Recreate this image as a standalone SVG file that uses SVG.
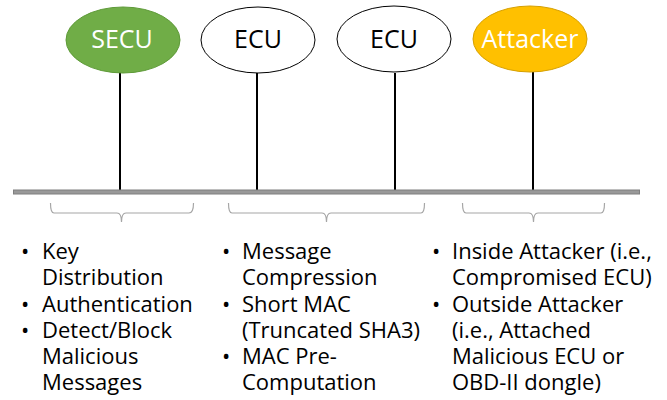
<svg xmlns="http://www.w3.org/2000/svg" width="667" height="400" viewBox="0 0 667 400">
<style>
.lbl{font-family:"Open Sans","Noto Sans","Liberation Sans",sans-serif;font-size:25px;text-anchor:middle}
.txt{font-family:"Open Sans","Noto Sans","Liberation Sans",sans-serif;font-size:22px;fill:#000}
.stem{stroke:#000;stroke-width:2}
.brace{fill:none;stroke:#a6a6a6;stroke-width:1.2}
</style>
<rect width="667" height="400" fill="#fff"/>
<g id="connectors">
<line class="stem" x1="120" y1="72" x2="120" y2="190"/>
<line class="stem" x1="257" y1="73" x2="257" y2="190"/>
<line class="stem" x1="395" y1="73" x2="395" y2="190"/>
<line class="stem" x1="533" y1="72" x2="533" y2="190"/>
</g>
<g id="bus">
<rect x="13.5" y="190" width="626" height="4" fill="#999" stroke="#7f7f7f" stroke-width="1"/>
</g>
<g id="secu">
<ellipse cx="123" cy="40" rx="57" ry="33" fill="#70AD47" stroke="#5e9a38" stroke-width="1"/>
<text class="lbl" x="122" y="48" fill="#fff">SECU</text>
</g>
<g id="ecu1">
<ellipse cx="258" cy="40" rx="57" ry="33" fill="#fff" stroke="#000" stroke-width="1"/>
<text class="lbl" x="258" y="48" fill="#000">ECU</text>
</g>
<g id="ecu2">
<ellipse cx="394" cy="39" rx="57" ry="33" fill="#fff" stroke="#000" stroke-width="1"/>
<text class="lbl" x="394" y="48" fill="#000">ECU</text>
</g>
<g id="attacker">
<ellipse cx="530" cy="39" rx="57" ry="33" fill="#FFC000" stroke="#d6a000" stroke-width="1"/>
<text class="lbl" x="530" y="48" fill="#fff">Attacker</text>
</g>
<g id="braces">
<path class="brace" d="M50.5,203 Q50.5,213 54,213 L117,213 Q121.5,213 121.5,222 Q121.5,213 126,213 L189,213 Q193.5,213 193.5,203"/>
<path class="brace" d="M228.5,203 Q228.5,213 232,213 L322,213 Q326.5,213 326.5,222 Q326.5,213 331,213 L421,213 Q424.5,213 424.5,203"/>
<path class="brace" d="M462.5,203 Q462.5,213 466,213 L529,213 Q533.5,213 533.5,222 Q533.5,213 538,213 L601,213 Q604.5,213 604.5,203"/>
</g>
<g id="list-secu">
<text class="txt" x="21" y="259">•</text>
<text class="txt" x="42" y="259">Key</text>
<text class="txt" x="42" y="285">Distribution</text>
<text class="txt" x="21" y="312">•</text>
<text class="txt" x="42" y="312">Authentication</text>
<text class="txt" x="21" y="338">•</text>
<text class="txt" x="42" y="338">Detect/Block</text>
<text class="txt" x="42" y="364">Malicious</text>
<text class="txt" x="42" y="390">Messages</text>
</g>
<g id="list-ecu">
<text class="txt" x="222" y="259">•</text>
<text class="txt" x="242" y="259">Message</text>
<text class="txt" x="242" y="285">Compression</text>
<text class="txt" x="222" y="312">•</text>
<text class="txt" x="242" y="312">Short MAC</text>
<text class="txt" x="242" y="338">(Truncated SHA3)</text>
<text class="txt" x="222" y="364">•</text>
<text class="txt" x="242" y="364">MAC Pre-</text>
<text class="txt" x="242" y="390">Computation</text>
</g>
<g id="list-attacker">
<text class="txt" x="432" y="259">•</text>
<text class="txt" x="452" y="259">Inside Attacker (i.e.,</text>
<text class="txt" x="452" y="285">Compromised ECU)</text>
<text class="txt" x="432" y="312">•</text>
<text class="txt" x="452" y="312">Outside Attacker</text>
<text class="txt" x="452" y="338">(i.e., Attached</text>
<text class="txt" x="452" y="364">Malicious ECU or</text>
<text class="txt" x="452" y="390">OBD-II dongle)</text>
</g>
</svg>
